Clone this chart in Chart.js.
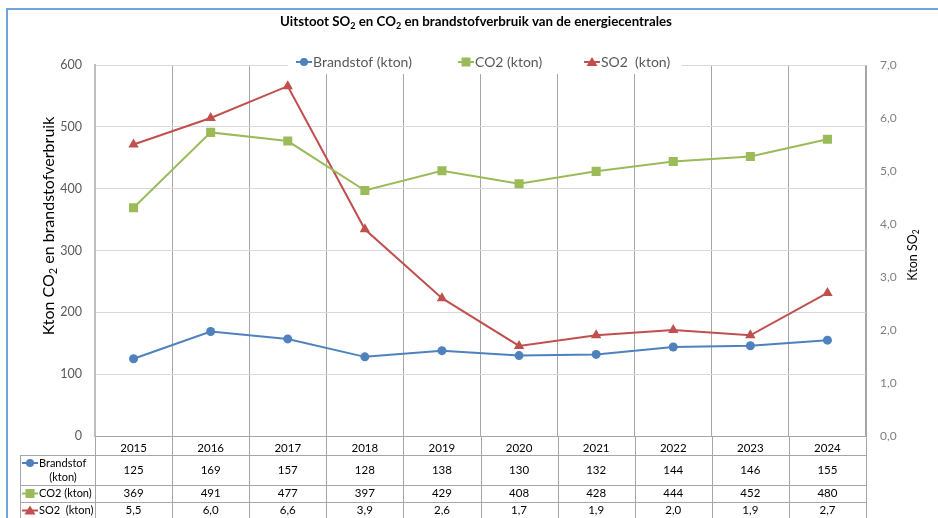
<!DOCTYPE html>
<html>
<head>
<meta charset="utf-8">
<title>Uitstoot SO2 en CO2</title>
<style>
  body { margin: 0; background: #fff; }
  #wrap { position: relative; width: 938px; height: 518px; }
</style>
<script src="https://cdn.jsdelivr.net/npm/chart.js@4/dist/chart.umd.min.js"></script>
</head>
<body>
<div id="wrap"><canvas id="myChart" width="938" height="518"></canvas></div>

<script>
  // data
  var years = ['2015', '2016', '2017', '2018', '2019', '2020', '2021', '2022', '2023', '2024'];
  var brandstof = [125, 169, 157, 128, 138, 130, 132, 144, 146, 155];
  var co2 = [369, 491, 477, 397, 429, 408, 428, 444, 452, 480];
  var so2 = [5.5, 6.0, 6.6, 3.9, 2.6, 1.7, 1.9, 2.0, 1.9, 2.7];
  var leftMax = 600, leftStep = 100;
  var rightMax = 7, rightStep = 1;

  var FONT = 'Lato, "Liberation Sans", sans-serif';
  var BLUE = '#4F81BD', GREEN = '#9BBB59', RED = '#C0504D';

  function commaNum(v) { return v.toFixed(1).replace('.', ','); }

  // text with subscripts: runs like [['Kton CO'], ['2', true], [' en ...']]
  function drawRuns(ctx, runs, x, y, size, weight, color, align) {
    var total = 0;
    runs.forEach(function (r) {
      ctx.font = weight + ' ' + (r[1] ? size * 0.68 : size) + 'px ' + FONT;
      total += ctx.measureText(r[0]).width;
    });
    var cx = align === 'center' ? x - total / 2 : x;
    ctx.fillStyle = color;
    ctx.textAlign = 'left';
    ctx.textBaseline = 'middle';
    runs.forEach(function (r) {
      ctx.font = weight + ' ' + (r[1] ? size * 0.68 : size) + 'px ' + FONT;
      ctx.fillText(r[0], cx, r[1] ? y + size * 0.3 : y);
      cx += ctx.measureText(r[0]).width;
    });
  }

  function marker(ctx, style, color, x, y) {
    ctx.save();
    ctx.strokeStyle = color;
    ctx.fillStyle = color;
    ctx.lineWidth = 2;
    ctx.beginPath();
    ctx.moveTo(x - 8, y);
    ctx.lineTo(x + 8, y);
    ctx.stroke();
    ctx.beginPath();
    if (style === 'circle') {
      ctx.arc(x, y, 4, 0, Math.PI * 2);
    } else if (style === 'rect') {
      ctx.rect(x - 4.5, y - 4.5, 9, 9);
    } else {
      ctx.moveTo(x, y - 5);
      ctx.lineTo(x + 5.5, y + 4);
      ctx.lineTo(x - 5.5, y + 4);
      ctx.closePath();
    }
    ctx.fill();
    ctx.restore();
  }

  var extras = {
    id: 'extras',
    afterDraw: function (chart) {
      var ctx = chart.ctx;
      var area = chart.chartArea;
      var xs = chart.scales.x;
      var n = years.length;
      var colW = (area.right - area.left) / n;

      ctx.save();

      // outer frame (blue)
      ctx.strokeStyle = '#6FA3DE';
      ctx.lineWidth = 2;
      ctx.beginPath();
      ctx.moveTo(7, 518);
      ctx.lineTo(7, 9);
      ctx.lineTo(938, 9);
      ctx.stroke();

      // title
      drawRuns(ctx, [['Uitstoot SO'], ['2', true], [' en CO'], ['2', true], [' en brandstofverbruik van de energiecentrales']],
        476, 22, 13.3, 'bold', '#000', 'center');

      // axis titles
      ctx.save();
      ctx.translate(49, 226);
      ctx.rotate(-Math.PI / 2);
      drawRuns(ctx, [['Kton CO'], ['2', true], [' en brandstofverbruik']], 0, 0, 16, 'normal', '#000', 'center');
      ctx.restore();
      ctx.save();
      ctx.translate(913, 255);
      ctx.rotate(-Math.PI / 2);
      drawRuns(ctx, [['Kton SO'], ['2', true]], 0, 0, 12.5, 'normal', '#000', 'center');
      ctx.restore();

      // legend on top of the plot
      ctx.fillStyle = '#fff';
      ctx.fillRect(288, 52, 394, 22);
      var items = [
        ['circle', BLUE, 304, 'Brandstof (kton)'],
        ['rect', GREEN, 466, 'CO2 (kton)'],
        ['triangle', RED, 592, 'SO2  (kton)']
      ];
      items.forEach(function (it) {
        marker(ctx, it[0], it[1], it[2], 62);
        ctx.font = '14px ' + FONT;
        ctx.fillStyle = '#595959';
        ctx.textAlign = 'left';
        ctx.textBaseline = 'middle';
        ctx.fillText(it[3], it[2] + 9, 62);
      });

      // data table below the axis
      var b = area.bottom;
      var rowY = [b, b + 19, b + 49, b + 66, b + 83];
      ctx.strokeStyle = '#A6A6A6';
      ctx.lineWidth = 1;
      ctx.beginPath();
      for (var i = 0; i <= n; i++) {
        var lx = Math.round(area.left + i * colW) + 0.5;
        ctx.moveTo(lx, b);
        ctx.lineTo(lx, 518);
      }
      ctx.moveTo(20.5, rowY[1]);
      ctx.lineTo(20.5, 518);
      for (var r = 1; r < rowY.length; r++) {
        ctx.moveTo(20, Math.round(rowY[r]) + 0.5);
        ctx.lineTo(area.right, Math.round(rowY[r]) + 0.5);
      }
      ctx.stroke();

      var rows = [
        [brandstof, function (v) { return String(v); }],
        [co2, function (v) { return String(v); }],
        [so2, commaNum]
      ];
      ctx.font = '11.5px ' + FONT;
      ctx.fillStyle = '#000';
      ctx.textAlign = 'center';
      ctx.textBaseline = 'middle';
      rows.forEach(function (row, ri) {
        var cy = (rowY[ri + 1] + rowY[ri + 2]) / 2;
        row[0].forEach(function (v, k) {
          ctx.fillText(row[1](v), xs.getPixelForValue(k), cy);
        });
      });

      // legend keys in the table
      marker(ctx, 'circle', BLUE, 30, rowY[1] + 8);
      marker(ctx, 'rect', GREEN, 30, (rowY[2] + rowY[3]) / 2);
      marker(ctx, 'triangle', RED, 30, (rowY[3] + rowY[4]) / 2);
      ctx.font = '11px ' + FONT;
      ctx.fillStyle = '#000';
      ctx.textAlign = 'left';
      ctx.fillText('Brandstof', 39, rowY[1] + 8);
      ctx.textAlign = 'center';
      ctx.fillText('(kton)', 63, rowY[1] + 22);
      ctx.textAlign = 'left';
      ctx.fillText('CO2 (kton)', 39, (rowY[2] + rowY[3]) / 2);
      ctx.fillText('SO2  (kton)', 39, (rowY[3] + rowY[4]) / 2);

      ctx.restore();
    }
  };

  var ctx = document.getElementById('myChart').getContext('2d');
  var chart = new Chart(ctx, {
    type: 'line',
    data: {
      labels: years,
      datasets: [{
        label: 'Brandstof (kton)',
        data: brandstof,
        yAxisID: 'y',
        borderColor: BLUE,
        backgroundColor: BLUE,
        borderWidth: 2,
        pointStyle: 'circle',
        pointRadius: 4.5,
        pointBorderWidth: 0,
        tension: 0
      }, {
        label: 'CO2 (kton)',
        data: co2,
        yAxisID: 'y',
        borderColor: GREEN,
        backgroundColor: GREEN,
        borderWidth: 2,
        pointStyle: 'rect',
        pointRadius: 6.4,
        pointBorderWidth: 0,
        tension: 0
      }, {
        label: 'SO2  (kton)',
        data: so2,
        yAxisID: 'y2',
        borderColor: RED,
        backgroundColor: RED,
        borderWidth: 2,
        pointStyle: 'triangle',
        pointRadius: 6,
        pointBorderWidth: 0,
        tension: 0
      }]
    },
    options: {
      responsive: false,
      animation: false,
      devicePixelRatio: 1,
      layout: { padding: { top: 65, left: 0, right: 0, bottom: 0 } },
      plugins: {
        legend: { display: false },
        title: { display: false },
        tooltip: { enabled: false }
      },
      scales: {
        x: {
          type: 'category',
          offset: true,
          grid: { offset: true, color: '#A6A6A6', drawTicks: false },
          border: { color: '#A6A6A6' },
          ticks: { color: '#000', padding: 5, font: { family: FONT, size: 11.5 } },
          afterFit: function (s) { s.height = 82; }
        },
        y: {
          position: 'left',
          min: 0,
          max: leftMax,
          ticks: { stepSize: leftStep, color: '#595959', padding: 13, font: { family: FONT, size: 12.5 } },
          grid: { color: '#D9D9D9', drawTicks: false },
          border: { color: '#BFBFBF', width: 2 },
          afterFit: function (s) { s.width = 95; }
        },
        y2: {
          position: 'right',
          min: 0,
          max: rightMax,
          ticks: {
            stepSize: rightStep, color: '#7F7F7F', padding: 14, font: { family: FONT, size: 12 },
            callback: function (v) { return commaNum(v); }
          },
          grid: { drawOnChartArea: false, drawTicks: false },
          border: { color: '#A6A6A6' },
          afterFit: function (s) { s.width = 72; }
        }
      }
    },
    plugins: [extras]
  });
</script>
</body>
</html>
